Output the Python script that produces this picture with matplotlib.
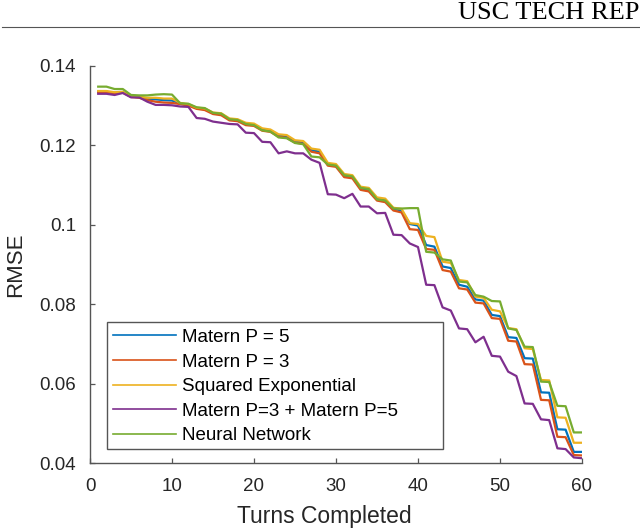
import matplotlib
matplotlib.use('Agg')
import matplotlib.pyplot as plt
from matplotlib.lines import Line2D
from matplotlib.patches import Rectangle
import numpy as np

plt.rcParams['font.family'] = ['Liberation Sans', 'DejaVu Sans']

# turns 1..60
turns = np.arange(1, 61)

matern5 = [0.1335, 0.1335, 0.1332, 0.1334, 0.1323, 0.1321, 0.1317, 0.1316, 0.1314, 0.1313,
           0.1306, 0.1302, 0.1294, 0.1291, 0.1281, 0.1279, 0.1266, 0.1264, 0.1254, 0.1252,
           0.1240, 0.1237, 0.1225, 0.1222, 0.1210, 0.1207, 0.1188, 0.1184, 0.1152, 0.1149,
           0.1124, 0.1121, 0.1092, 0.1088, 0.1065, 0.1061, 0.1040, 0.1036, 0.1002, 0.0998,
           0.0949, 0.0945, 0.0895, 0.0891, 0.0849, 0.0844, 0.0812, 0.0809, 0.0773, 0.0770,
           0.0717, 0.0715, 0.0664, 0.0663, 0.0578, 0.0577, 0.0485, 0.0484, 0.0428, 0.0428]

matern3 = [0.1334, 0.1334, 0.1331, 0.1333, 0.1322, 0.1320, 0.1314, 0.1310, 0.1308, 0.1307,
           0.1304, 0.1300, 0.1292, 0.1289, 0.1279, 0.1276, 0.1263, 0.1261, 0.1251, 0.1249,
           0.1237, 0.1234, 0.1222, 0.1219, 0.1207, 0.1204, 0.1184, 0.1180, 0.1149, 0.1146,
           0.1120, 0.1117, 0.1088, 0.1084, 0.1061, 0.1057, 0.1036, 0.1031, 0.0989, 0.0987,
           0.0939, 0.0937, 0.0886, 0.0882, 0.0840, 0.0837, 0.0804, 0.0802, 0.0765, 0.0763,
           0.0708, 0.0706, 0.0649, 0.0648, 0.0559, 0.0558, 0.0466, 0.0465, 0.0420, 0.0419]

sq_exp = [0.1337, 0.1337, 0.1334, 0.1335, 0.1324, 0.1323, 0.1320, 0.1320, 0.1318, 0.1318,
          0.1307, 0.1304, 0.1295, 0.1293, 0.1283, 0.1281, 0.1268, 0.1266, 0.1257, 0.1255,
          0.1243, 0.1240, 0.1228, 0.1226, 0.1213, 0.1211, 0.1192, 0.1189, 0.1156, 0.1153,
          0.1128, 0.1125, 0.1096, 0.1093, 0.1069, 0.1066, 0.1043, 0.1040, 0.1004, 0.1002,
          0.0972, 0.0969, 0.0907, 0.0904, 0.0861, 0.0858, 0.0819, 0.0816, 0.0786, 0.0782,
          0.0740, 0.0737, 0.0689, 0.0687, 0.0609, 0.0608, 0.0515, 0.0514, 0.0451, 0.0451]

matern_sum = [0.1330, 0.1330, 0.1327, 0.1332, 0.1321, 0.1321, 0.1310, 0.1302, 0.1302, 0.1301,
              0.1298, 0.1297, 0.1269, 0.1267, 0.1260, 0.1257, 0.1254, 0.1253, 0.1232, 0.1231,
              0.1209, 0.1208, 0.1180, 0.1185, 0.1180, 0.1180, 0.1164, 0.1156, 0.1077, 0.1076,
              0.1067, 0.1078, 0.1046, 0.1046, 0.1029, 0.1030, 0.0975, 0.0974, 0.0953, 0.0944,
              0.0849, 0.0848, 0.0792, 0.0784, 0.0739, 0.0737, 0.0704, 0.0718, 0.0670, 0.0668,
              0.0630, 0.0619, 0.0550, 0.0549, 0.0510, 0.0508, 0.0437, 0.0435, 0.0414, 0.0412]

neural = [0.1348, 0.1348, 0.1342, 0.1342, 0.1327, 0.1326, 0.1326, 0.1328, 0.1329, 0.1328,
          0.1306, 0.1305, 0.1296, 0.1294, 0.1282, 0.1280, 0.1266, 0.1264, 0.1254, 0.1251,
          0.1238, 0.1235, 0.1220, 0.1218, 0.1206, 0.1203, 0.1172, 0.1170, 0.1152, 0.1149,
          0.1125, 0.1122, 0.1093, 0.1090, 0.1064, 0.1061, 0.1041, 0.1041, 0.1042, 0.1042,
          0.0932, 0.0930, 0.0913, 0.0910, 0.0857, 0.0855, 0.0823, 0.0819, 0.0808, 0.0807,
          0.0739, 0.0735, 0.0693, 0.0692, 0.0605, 0.0604, 0.0544, 0.0543, 0.0477, 0.0477]

labels = ['Matern P = 5', 'Matern P = 3', 'Squared Exponential',
          'Matern P=3 + Matern P=5', 'Neural Network']
colors = ['#0072BD', '#D95319', '#EDB120', '#7E2F8E', '#77AC30']

fig = plt.figure(figsize=(6.4, 5.31), dpi=100)
ax = fig.add_axes([90 / 640, 1 - 463 / 531, 492 / 640, 397 / 531])

for ys, lab, col in zip([matern5, matern3, sq_exp, matern_sum, neural], labels, colors):
    ax.plot(turns, ys, color=col, lw=1.6, label=lab)

ax.set_xlim(0, 60)
ax.set_ylim(0.04, 0.14)
ax.set_xticks([0, 10, 20, 30, 40, 50, 60])
ax.set_yticks([0.04, 0.06, 0.08, 0.1, 0.12, 0.14])
ax.set_yticklabels(['0.04', '0.06', '0.08', '0.1', '0.12', '0.14'])

for s in ['top', 'right']:
    ax.spines[s].set_visible(False)
for s in ['left', 'bottom']:
    ax.spines[s].set_color('#555555')
    ax.spines[s].set_linewidth(1.0)
ax.tick_params(direction='in', length=3.5, width=0.9, color='#555555',
               labelcolor='#262626', labelsize=13.5)
ax.tick_params(axis='x', pad=11)
ax.tick_params(axis='y', pad=10)

ax.set_xlabel('Turns Completed', fontsize=16.5, color='#262626')
ax.set_ylabel('RMSE', fontsize=16, color='#262626')
ax.xaxis.set_label_coords(0.4756, -0.1511)
ax.xaxis.label.set_va('baseline')
ax.yaxis.set_label_coords(-0.1504, 0.5)
ax.yaxis.label.set_va('center')

# legend box drawn by hand to match the wide MATLAB frame
ax.add_patch(Rectangle((0.0346, 0.0353), 0.6829, 0.3199, transform=ax.transAxes,
                       fill=True, facecolor='white', edgecolor='#555555', lw=1.0, zorder=3))
leg = ax.legend(loc='upper left', bbox_to_anchor=(0.0467, 0.3380), frameon=False,
                fontsize=13.5, handlelength=3.36, handletextpad=0.32,
                labelspacing=0.40, borderpad=0, borderaxespad=0)
leg.set_zorder(4)
for h in leg.get_lines():
    h.set_linewidth(1.2)

# report header
fig.text(639 / 640, 1 - 19 / 531, 'USC TECH REP', ha='right', va='baseline',
         family='Liberation Serif', fontsize=19, color='black')
fig.add_artist(Line2D([2 / 640, 1], [1 - 27 / 531, 1 - 27 / 531],
                      transform=fig.transFigure, color='#555555', lw=0.8))

fig.savefig('out.png', dpi=100)
